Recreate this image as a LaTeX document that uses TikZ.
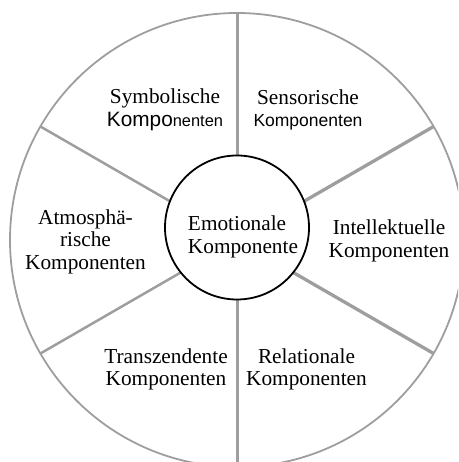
\documentclass[tikz,border=0pt]{standalone}
\usepackage{fontspec}
\setmainfont{Liberation Serif}
\setsansfont{Liberation Sans}
\usepackage{tikz}

\tikzset{
  rim/.style={draw=black!38, line width=1.8pt},
  spoke/.style={draw=black!38, line width=2.5pt},
  thickspoke/.style={draw=black!38, line width=3.3pt},
  comptext/.style={align=center, inner sep=0pt, font=\fontsize{21.3}{22.5}\selectfont}
}

\begin{document}
\begin{tikzpicture}[x=1pt,y=1pt]
    \useasboundingbox (-237,-222) rectangle (221,240);
    \clip (-237,-222) rectangle (221,240);
    \coordinate (o) at (0,0);
    \coordinate (s30) at (30:227);
    \coordinate (s90) at (90:227);
    \coordinate (s150) at (150:227);
    \coordinate (s210) at (210:227);
    \coordinate (s270) at (270:227);
    \coordinate (s330) at (330:227);
    % spokes of the wheel
    \draw[thickspoke] (o) -- (s30);
    \draw[spoke, line width=3pt] (o) -- (s90);
    \draw[spoke] (o) -- (s150);
    \draw[spoke] (o) -- (s210);
    \draw[spoke, line width=3pt] (o) -- (s270);
    \draw[thickspoke] (o) -- (s330);
    \draw[rim] (o) circle (227pt);
    % hub
    \node[draw, circle, line width=1.8pt, fill=white, minimum size=144pt, inner sep=0pt] (emo) at (0,12.5) {};
    \node[comptext, align=left] (emotext) at (6,3) {Emotionale\\Komponente};
    \node[comptext] (sym) at (-72,130) {Symbolische\\{\sffamily\fontsize{20.8}{22.5}\selectfont Kompo\fontsize{16.4}{22.5}\selectfont nenten}};
    \node[comptext] (sen) at (71,130) {Sensorische\\{\sffamily\fontsize{17.5}{22.5}\selectfont Komponenten}};
    \node[comptext] (int) at (152,-1) {Intellektuelle\\Komponenten};
    \node[comptext] (atm) at (-151.5,-1.5) {Atmosphä-\\rische\\Komponenten};
    \node[comptext] (tra) at (-71,-129.5) {Transzendente\\Komponenten};
    \node[comptext] (rel) at (69.5,-129.5) {Relationale\\Komponenten};
\end{tikzpicture}
\end{document}
